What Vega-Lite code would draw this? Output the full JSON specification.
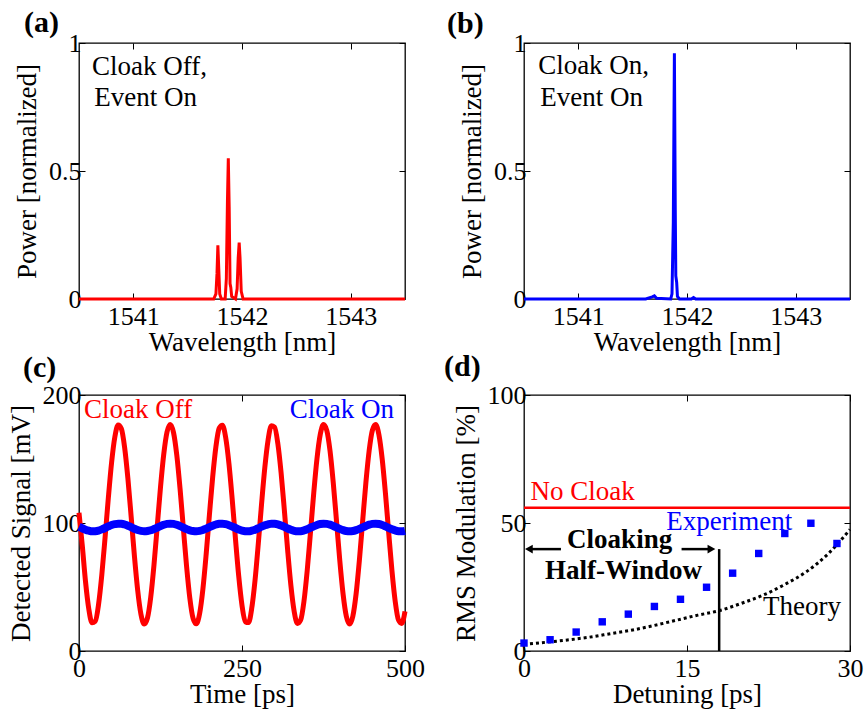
{
  "$schema": "https://vega.github.io/schema/vega-lite/v6.json",
  "padding": {"left": 6, "top": 7, "right": 5, "bottom": 5},
  "background": "white",
  "config": {
    "font": "Liberation Serif",
    "view": {"stroke": "#000", "strokeWidth": 1.3},
    "axis": {"grid": false, "domain": false, "tickColor": "#000", "tickSize": -6, "tickWidth": 1, "labelFont": "Liberation Serif", "labelFontSize": 26, "labelColor": "#000", "labelPadding": 10, "labelFlush": false, "labelOverlap": false, "titleFont": "Liberation Serif", "titleFontSize": 27, "titleFontWeight": "normal", "titleColor": "#000", "titlePadding": 0, "minExtent": 0},
    "axisLeft": {"labelPadding": 4, "titlePadding": 7},
    "title": {"font": "Liberation Serif", "fontSize": 30, "fontWeight": "bold", "color": "#000", "anchor": "start", "frame": "group", "baseline": "alphabetic"},
    "text": {"font": "Liberation Serif", "fontSize": 27}
  },
  "datasets": {
    "specA": [
      {"x": 1540.5, "y": 0}, {"x": 1541.74, "y": 0}, {"x": 1541.76, "y": 0.02}, {"x": 1541.77, "y": 0.1}, {"x": 1541.778, "y": 0.21}, {"x": 1541.786, "y": 0.12}, {"x": 1541.795, "y": 0.02}, {"x": 1541.81, "y": 0}, {"x": 1541.845, "y": 0}, {"x": 1541.856, "y": 0.08}, {"x": 1541.866, "y": 0.38}, {"x": 1541.874, "y": 0.55}, {"x": 1541.882, "y": 0.36}, {"x": 1541.89, "y": 0.06}, {"x": 1541.897, "y": 0.045}, {"x": 1541.905, "y": 0.01}, {"x": 1541.94, "y": 0}, {"x": 1541.955, "y": 0.04}, {"x": 1541.965, "y": 0.16}, {"x": 1541.974, "y": 0.22}, {"x": 1541.982, "y": 0.16}, {"x": 1541.993, "y": 0.03}, {"x": 1542.01, "y": 0}, {"x": 1543.5, "y": 0}
    ],
    "specB": [
      {"x": 1540.5, "y": 0}, {"x": 1541.62, "y": 0}, {"x": 1541.68, "y": 0.008}, {"x": 1541.7, "y": 0.012}, {"x": 1541.72, "y": 0.003}, {"x": 1541.85, "y": 0}, {"x": 1541.862, "y": 0.02}, {"x": 1541.874, "y": 0.3}, {"x": 1541.884, "y": 0.96}, {"x": 1541.892, "y": 0.35}, {"x": 1541.897, "y": 0.09}, {"x": 1541.905, "y": 0.065}, {"x": 1541.912, "y": 0.01}, {"x": 1541.93, "y": 0}, {"x": 1542.04, "y": 0}, {"x": 1542.06, "y": 0.006}, {"x": 1542.08, "y": 0}, {"x": 1543.5, "y": 0}
    ],
    "labA": [
      {"x": 1540.62, "y": 0.875, "t": "Cloak Off,"}, {"x": 1540.64, "y": 0.754, "t": "Event On"}
    ],
    "labB": [
      {"x": 1540.63, "y": 0.879, "t": "Cloak On,"}, {"x": 1540.65, "y": 0.754, "t": "Event On"}
    ],
    "off": [
      {"x": 0, "y": 108}, {"x": 5, "y": 82.6}, {"x": 10, "y": 54.2}, {"x": 15, "y": 32.9}, {"x": 20, "y": 22.0}, {"x": 25, "y": 23.2}, {"x": 30, "y": 36.4}, {"x": 35, "y": 59.5}, {"x": 40, "y": 88.7}, {"x": 45, "y": 119.6}, {"x": 50, "y": 147.3}, {"x": 55, "y": 167.3}, {"x": 60, "y": 176.6}, {"x": 65, "y": 173.6}, {"x": 70, "y": 158.9}, {"x": 75, "y": 134.7}, {"x": 80, "y": 104.9}, {"x": 85, "y": 74.2}, {"x": 90, "y": 47.4}, {"x": 95, "y": 28.7}, {"x": 100, "y": 21.1}, {"x": 105, "y": 25.8}, {"x": 110, "y": 42.0}, {"x": 115, "y": 67.2}, {"x": 120, "y": 97.4}, {"x": 125, "y": 127.9}, {"x": 130, "y": 153.8}, {"x": 135, "y": 171.1}, {"x": 140, "y": 177.0}, {"x": 145, "y": 170.6}, {"x": 150, "y": 152.9}, {"x": 155, "y": 126.7}, {"x": 160, "y": 96.2}, {"x": 165, "y": 66.1}, {"x": 170, "y": 41.2}, {"x": 175, "y": 25.4}, {"x": 180, "y": 21.2}, {"x": 185, "y": 29.2}, {"x": 190, "y": 48.3}, {"x": 195, "y": 75.4}, {"x": 200, "y": 106.2}, {"x": 205, "y": 135.8}, {"x": 210, "y": 159.7}, {"x": 215, "y": 174.0}, {"x": 220, "y": 176.4}, {"x": 225, "y": 166.7}, {"x": 230, "y": 146.3}, {"x": 235, "y": 118.4}, {"x": 240, "y": 87.5}, {"x": 245, "y": 58.4}, {"x": 250, "y": 35.7}, {"x": 255, "y": 22.9}, {"x": 260, "y": 22.2}, {"x": 265, "y": 33.6}, {"x": 270, "y": 55.3}, {"x": 275, "y": 83.9}, {"x": 280, "y": 114.8}, {"x": 285, "y": 143.3}, {"x": 290, "y": 164.8}, {"x": 295, "y": 175.9}, {"x": 300, "y": 174.9}, {"x": 305, "y": 161.9}, {"x": 310, "y": 139.0}, {"x": 315, "y": 109.8}, {"x": 320, "y": 78.9}, {"x": 325, "y": 51.2}, {"x": 330, "y": 31.0}, {"x": 335, "y": 21.5}, {"x": 340, "y": 24.2}, {"x": 345, "y": 38.7}, {"x": 350, "y": 62.8}, {"x": 355, "y": 92.5}, {"x": 360, "y": 123.3}, {"x": 365, "y": 150.2}, {"x": 370, "y": 169.1}, {"x": 375, "y": 176.9}, {"x": 380, "y": 172.4}, {"x": 385, "y": 156.4}, {"x": 390, "y": 131.3}, {"x": 395, "y": 101.2}, {"x": 400, "y": 70.6}, {"x": 405, "y": 44.6}, {"x": 410, "y": 27.1}, {"x": 415, "y": 21.0}, {"x": 420, "y": 27.2}, {"x": 425, "y": 44.6}, {"x": 430, "y": 70.7}, {"x": 435, "y": 101.2}, {"x": 440, "y": 131.4}, {"x": 445, "y": 156.4}, {"x": 450, "y": 172.5}, {"x": 455, "y": 176.9}, {"x": 460, "y": 169.0}, {"x": 465, "y": 150.1}, {"x": 470, "y": 123.2}, {"x": 475, "y": 92.4}, {"x": 480, "y": 62.7}, {"x": 485, "y": 38.7}, {"x": 490, "y": 24.2}, {"x": 495, "y": 21.5}, {"x": 500, "y": 31.0}
    ],
    "on": [
      {"x": 0, "y": 97.1}, {"x": 5, "y": 95.9}, {"x": 10, "y": 94.8}, {"x": 15, "y": 94.0}, {"x": 20, "y": 93.5}, {"x": 25, "y": 93.6}, {"x": 30, "y": 94.1}, {"x": 35, "y": 95.0}, {"x": 40, "y": 96.1}, {"x": 45, "y": 97.3}, {"x": 50, "y": 98.4}, {"x": 55, "y": 99.1}, {"x": 60, "y": 99.5}, {"x": 65, "y": 99.4}, {"x": 70, "y": 98.8}, {"x": 75, "y": 97.9}, {"x": 80, "y": 96.7}, {"x": 85, "y": 95.5}, {"x": 90, "y": 94.5}, {"x": 95, "y": 93.8}, {"x": 100, "y": 93.5}, {"x": 105, "y": 93.7}, {"x": 110, "y": 94.3}, {"x": 115, "y": 95.3}, {"x": 120, "y": 96.4}, {"x": 125, "y": 97.6}, {"x": 130, "y": 98.6}, {"x": 135, "y": 99.3}, {"x": 140, "y": 99.5}, {"x": 145, "y": 99.3}, {"x": 150, "y": 98.6}, {"x": 155, "y": 97.6}, {"x": 160, "y": 96.4}, {"x": 165, "y": 95.2}, {"x": 170, "y": 94.3}, {"x": 175, "y": 93.7}, {"x": 180, "y": 93.5}, {"x": 185, "y": 93.8}, {"x": 190, "y": 94.5}, {"x": 195, "y": 95.6}, {"x": 200, "y": 96.8}, {"x": 205, "y": 97.9}, {"x": 210, "y": 98.8}, {"x": 215, "y": 99.4}, {"x": 220, "y": 99.5}, {"x": 225, "y": 99.1}, {"x": 230, "y": 98.3}, {"x": 235, "y": 97.2}, {"x": 240, "y": 96.1}, {"x": 245, "y": 94.9}, {"x": 250, "y": 94.1}, {"x": 255, "y": 93.6}, {"x": 260, "y": 93.5}, {"x": 265, "y": 94.0}, {"x": 270, "y": 94.8}, {"x": 275, "y": 95.9}, {"x": 280, "y": 97.1}, {"x": 285, "y": 98.2}, {"x": 290, "y": 99.0}, {"x": 295, "y": 99.5}, {"x": 300, "y": 99.4}, {"x": 305, "y": 98.9}, {"x": 310, "y": 98.0}, {"x": 315, "y": 96.9}, {"x": 320, "y": 95.7}, {"x": 325, "y": 94.7}, {"x": 330, "y": 93.9}, {"x": 335, "y": 93.5}, {"x": 340, "y": 93.6}, {"x": 345, "y": 94.2}, {"x": 350, "y": 95.1}, {"x": 355, "y": 96.3}, {"x": 360, "y": 97.4}, {"x": 365, "y": 98.5}, {"x": 370, "y": 99.2}, {"x": 375, "y": 99.5}, {"x": 380, "y": 99.3}, {"x": 385, "y": 98.7}, {"x": 390, "y": 97.7}, {"x": 395, "y": 96.6}, {"x": 400, "y": 95.4}, {"x": 405, "y": 94.4}, {"x": 410, "y": 93.7}, {"x": 415, "y": 93.5}, {"x": 420, "y": 93.7}, {"x": 425, "y": 94.4}, {"x": 430, "y": 95.4}, {"x": 435, "y": 96.6}, {"x": 440, "y": 97.7}, {"x": 445, "y": 98.7}, {"x": 450, "y": 99.3}, {"x": 455, "y": 99.5}, {"x": 460, "y": 99.2}, {"x": 465, "y": 98.5}, {"x": 470, "y": 97.4}, {"x": 475, "y": 96.2}, {"x": 480, "y": 95.1}, {"x": 485, "y": 94.2}, {"x": 490, "y": 93.6}, {"x": 495, "y": 93.5}, {"x": 500, "y": 93.9}
    ],
    "exp": [
      {"x": 0, "y": 3.1}, {"x": 2.4, "y": 4.4}, {"x": 4.8, "y": 7.4}, {"x": 7.2, "y": 11.4}, {"x": 9.6, "y": 14.4}, {"x": 12, "y": 17.4}, {"x": 14.4, "y": 20.2}, {"x": 16.8, "y": 24.9}, {"x": 19.2, "y": 30.4}, {"x": 21.6, "y": 38.1}, {"x": 24, "y": 45.9}, {"x": 26.4, "y": 49.9}, {"x": 28.8, "y": 42.0}
    ],
    "theory": [
      {"x": 0, "y": 2.6}, {"x": 2, "y": 3.4}, {"x": 4, "y": 4.3}, {"x": 6, "y": 5.4}, {"x": 8, "y": 6.8}, {"x": 10, "y": 8.2}, {"x": 12, "y": 10.0}, {"x": 14, "y": 12.0}, {"x": 16, "y": 14.0}, {"x": 18, "y": 15.8}, {"x": 20, "y": 18.6}, {"x": 22, "y": 21.8}, {"x": 24, "y": 26.0}, {"x": 26, "y": 31.0}, {"x": 28, "y": 38.0}, {"x": 30, "y": 47.5}
    ]
  },
  "columns": 2,
  "spacing": {"row": 96, "column": 119},
  "bounds": "flush",
  "concat": [
    {
      "width": 326, "height": 256,
      "title": {"text": "(a)", "dx": -55, "offset": -8},
      "resolve": {"axis": {"x": "independent", "y": "independent"}},
      "layer": [
        {"data": {"name": "specA"}, "mark": {"type": "line", "color": "#ff0000", "strokeWidth": 3},
         "encoding": {
           "x": {"field": "x", "type": "quantitative", "scale": {"domain": [1540.5, 1543.5], "nice": false, "zero": false}, "axis": {"values": [1541, 1542, 1543], "format": "d", "title": "Wavelength [nm]"}},
           "y": {"field": "y", "type": "quantitative", "scale": {"domain": [0, 1], "nice": false}, "axis": {"values": [0, 0.5, 1], "format": "~g", "title": "Power [normalized]"}}}},
        {"data": {"name": "specA"}, "mark": {"type": "point", "opacity": 0},
         "encoding": {
           "x": {"field": "x", "type": "quantitative", "scale": {"domain": [1540.5, 1543.5], "nice": false, "zero": false}, "axis": {"orient": "top", "values": [1541, 1542, 1543], "labels": false, "title": null}},
           "y": {"field": "y", "type": "quantitative", "scale": {"domain": [0, 1], "nice": false}, "axis": {"orient": "right", "values": [0, 0.5, 1], "labels": false, "title": null}}}},
        {"data": {"name": "labA"}, "mark": {"type": "text", "align": "left", "baseline": "alphabetic", "color": "#000"},
         "encoding": {
           "x": {"field": "x", "type": "quantitative", "scale": {"domain": [1540.5, 1543.5], "nice": false, "zero": false}, "axis": null},
           "y": {"field": "y", "type": "quantitative", "scale": {"domain": [0, 1], "nice": false}, "axis": null},
           "text": {"field": "t"}}}
      ]
    },
    {
      "width": 326, "height": 256,
      "title": {"text": "(b)", "dx": -77, "offset": -9},
      "resolve": {"axis": {"x": "independent", "y": "independent"}},
      "layer": [
        {"data": {"name": "specB"}, "mark": {"type": "line", "color": "#0000ff", "strokeWidth": 3},
         "encoding": {
           "x": {"field": "x", "type": "quantitative", "scale": {"domain": [1540.5, 1543.5], "nice": false, "zero": false}, "axis": {"values": [1541, 1542, 1543], "format": "d", "title": "Wavelength [nm]"}},
           "y": {"field": "y", "type": "quantitative", "scale": {"domain": [0, 1], "nice": false}, "axis": {"values": [0, 0.5, 1], "format": "~g", "title": "Power [normalized]"}}}},
        {"data": {"name": "specB"}, "mark": {"type": "point", "opacity": 0},
         "encoding": {
           "x": {"field": "x", "type": "quantitative", "scale": {"domain": [1540.5, 1543.5], "nice": false, "zero": false}, "axis": {"orient": "top", "values": [1541, 1542, 1543], "labels": false, "title": null}},
           "y": {"field": "y", "type": "quantitative", "scale": {"domain": [0, 1], "nice": false}, "axis": {"orient": "right", "values": [0, 0.5, 1], "labels": false, "title": null}}}},
        {"data": {"name": "labB"}, "mark": {"type": "text", "align": "left", "baseline": "alphabetic", "color": "#000"},
         "encoding": {
           "x": {"field": "x", "type": "quantitative", "scale": {"domain": [1540.5, 1543.5], "nice": false, "zero": false}, "axis": null},
           "y": {"field": "y", "type": "quantitative", "scale": {"domain": [0, 1], "nice": false}, "axis": null},
           "text": {"field": "t"}}}
      ]
    },
    {
      "width": 326, "height": 256,
      "title": {"text": "(c)", "dx": -56, "offset": -1},
      "resolve": {"axis": {"x": "independent", "y": "independent"}},
      "layer": [
        {"data": {"name": "off"}, "mark": {"type": "line", "color": "#ff0000", "strokeWidth": 5, "interpolate": "monotone"},
         "encoding": {
           "x": {"field": "x", "type": "quantitative", "scale": {"domain": [0, 500], "nice": false}, "axis": {"values": [0, 250, 500], "format": "d", "title": "Time [ps]"}},
           "y": {"field": "y", "type": "quantitative", "scale": {"domain": [0, 200], "nice": false}, "axis": {"values": [0, 100, 200], "format": "d", "title": "Detected Signal [mV]"}}}},
        {"data": {"name": "on"}, "mark": {"type": "line", "color": "#0000ff", "strokeWidth": 8, "interpolate": "monotone"},
         "encoding": {
           "x": {"field": "x", "type": "quantitative", "scale": {"domain": [0, 500], "nice": false}, "axis": {"orient": "top", "values": [0, 250, 500], "labels": false, "title": null}},
           "y": {"field": "y", "type": "quantitative", "scale": {"domain": [0, 200], "nice": false}, "axis": {"orient": "right", "values": [0, 100, 200], "labels": false, "title": null}}}},
        {"data": {"values": [{"x": 7.7, "y": 182, "t": "Cloak Off"}]}, "mark": {"type": "text", "align": "left", "baseline": "alphabetic", "color": "#ff0000"},
         "encoding": {
           "x": {"field": "x", "type": "quantitative", "scale": {"domain": [0, 500], "nice": false}, "axis": null},
           "y": {"field": "y", "type": "quantitative", "scale": {"domain": [0, 200], "nice": false}, "axis": null},
           "text": {"field": "t"}}},
        {"data": {"values": [{"x": 483, "y": 182, "t": "Cloak On"}]}, "mark": {"type": "text", "align": "right", "baseline": "alphabetic", "color": "#0000ff"},
         "encoding": {
           "x": {"field": "x", "type": "quantitative", "scale": {"domain": [0, 500], "nice": false}, "axis": null},
           "y": {"field": "y", "type": "quantitative", "scale": {"domain": [0, 200], "nice": false}, "axis": null},
           "text": {"field": "t"}}}
      ]
    },
    {
      "width": 326, "height": 256,
      "title": {"text": "(d)", "dx": -80, "offset": 0},
      "resolve": {"axis": {"x": "independent", "y": "independent"}},
      "layer": [
        {"data": {"values": [{"y": 56}]}, "mark": {"type": "rule", "color": "#ff0000", "strokeWidth": 2.5},
         "encoding": {
           "y": {"field": "y", "type": "quantitative", "scale": {"domain": [0, 100], "nice": false}, "axis": null}}},
        {"data": {"name": "theory"}, "mark": {"type": "line", "color": "#000", "strokeWidth": 3, "strokeDash": [3, 3], "interpolate": "monotone"},
         "encoding": {
           "x": {"field": "x", "type": "quantitative", "scale": {"domain": [0, 30], "nice": false}, "axis": {"values": [0, 15, 30], "format": "d", "title": "Detuning [ps]"}},
           "y": {"field": "y", "type": "quantitative", "scale": {"domain": [0, 100], "nice": false}, "axis": {"values": [0, 50, 100], "format": "d", "title": "RMS Modulation [%]"}}}},
        {"data": {"values": [{"x": 17.96, "y": 0, "y2": 39.8}]}, "mark": {"type": "rule", "color": "#000", "strokeWidth": 2.5},
         "encoding": {
           "x": {"field": "x", "type": "quantitative", "scale": {"domain": [0, 30], "nice": false}, "axis": null},
           "y": {"field": "y", "type": "quantitative", "scale": {"domain": [0, 100], "nice": false}, "axis": null},
           "y2": {"field": "y2"}}},
        {"data": {"values": [{"x": 0.5, "x2": 3.4, "y": 39.8}, {"x": 14.5, "x2": 17.2, "y": 39.8}]}, "mark": {"type": "rule", "color": "#000", "strokeWidth": 2.5},
         "encoding": {
           "x": {"field": "x", "type": "quantitative", "scale": {"domain": [0, 30], "nice": false}, "axis": null},
           "x2": {"field": "x2"},
           "y": {"field": "y", "type": "quantitative", "scale": {"domain": [0, 100], "nice": false}, "axis": null}}},
        {"data": {"values": [{"x": 0.45, "y": 39.8}]}, "mark": {"type": "point", "shape": "triangle-left", "filled": true, "color": "#000", "opacity": 1, "size": 80},
         "encoding": {
           "x": {"field": "x", "type": "quantitative", "scale": {"domain": [0, 30], "nice": false}, "axis": null},
           "y": {"field": "y", "type": "quantitative", "scale": {"domain": [0, 100], "nice": false}, "axis": null}}},
        {"data": {"values": [{"x": 17.25, "y": 39.8}]}, "mark": {"type": "point", "shape": "triangle-right", "filled": true, "color": "#000", "opacity": 1, "size": 80},
         "encoding": {
           "x": {"field": "x", "type": "quantitative", "scale": {"domain": [0, 30], "nice": false}, "axis": null},
           "y": {"field": "y", "type": "quantitative", "scale": {"domain": [0, 100], "nice": false}, "axis": null}}},
        {"data": {"name": "exp"}, "mark": {"type": "point", "shape": "square", "filled": true, "color": "#0000ff", "opacity": 1, "size": 55},
         "encoding": {
           "x": {"field": "x", "type": "quantitative", "scale": {"domain": [0, 30], "nice": false}, "axis": {"orient": "top", "values": [0, 15, 30], "labels": false, "title": null}},
           "y": {"field": "y", "type": "quantitative", "scale": {"domain": [0, 100], "nice": false}, "axis": {"orient": "right", "values": [0, 50, 100], "labels": false, "title": null}}}},
        {"data": {"values": [{"x": 0.6, "y": 58.8, "t": "No Cloak"}]}, "mark": {"type": "text", "align": "left", "baseline": "alphabetic", "color": "#ff0000"},
         "encoding": {
           "x": {"field": "x", "type": "quantitative", "scale": {"domain": [0, 30], "nice": false}, "axis": null},
           "y": {"field": "y", "type": "quantitative", "scale": {"domain": [0, 100], "nice": false}, "axis": null},
           "text": {"field": "t"}}},
        {"data": {"values": [{"x": 13.1, "y": 47.3, "t": "Experiment"}]}, "mark": {"type": "text", "align": "left", "baseline": "alphabetic", "color": "#0000ff"},
         "encoding": {
           "x": {"field": "x", "type": "quantitative", "scale": {"domain": [0, 30], "nice": false}, "axis": null},
           "y": {"field": "y", "type": "quantitative", "scale": {"domain": [0, 100], "nice": false}, "axis": null},
           "text": {"field": "t"}}},
        {"data": {"values": [{"x": 22.0, "y": 13.9, "t": "Theory"}]}, "mark": {"type": "text", "align": "left", "baseline": "alphabetic", "color": "#000"},
         "encoding": {
           "x": {"field": "x", "type": "quantitative", "scale": {"domain": [0, 30], "nice": false}, "axis": null},
           "y": {"field": "y", "type": "quantitative", "scale": {"domain": [0, 100], "nice": false}, "axis": null},
           "text": {"field": "t"}}},
        {"data": {"values": [{"x": 8.8, "y": 40.4, "t": "Cloaking"}, {"x": 9.15, "y": 28.1, "t": "Half-Window"}]}, "mark": {"type": "text", "align": "center", "baseline": "alphabetic", "color": "#000", "fontWeight": "bold"},
         "encoding": {
           "x": {"field": "x", "type": "quantitative", "scale": {"domain": [0, 30], "nice": false}, "axis": null},
           "y": {"field": "y", "type": "quantitative", "scale": {"domain": [0, 100], "nice": false}, "axis": null},
           "text": {"field": "t"}}}
      ]
    }
  ]
}
